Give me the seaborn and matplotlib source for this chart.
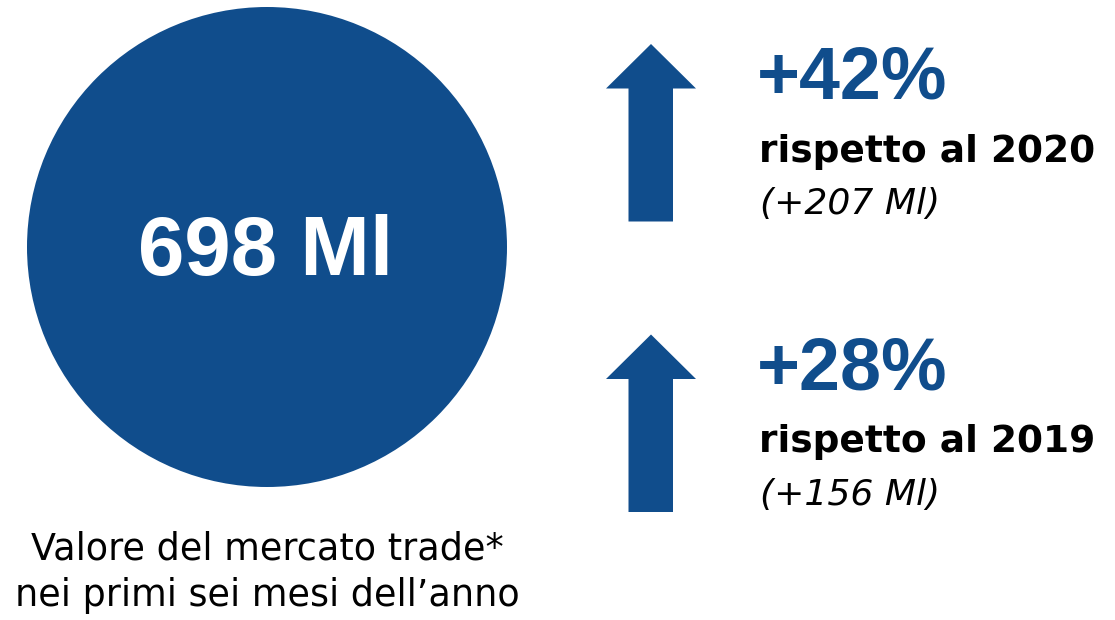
import matplotlib
matplotlib.use("Agg")
import matplotlib.pyplot as plt
import seaborn as sns
from matplotlib.patches import Circle, Polygon

# ---- data ----
total_label = "698 Ml"
caption_lines = ["Valore del mercato trade*", "nei primi sei mesi dell\u2019anno"]
pct_changes = ["+42%", "+28%"]
compare_labels = ["rispetto al 2020", "rispetto al 2019"]
abs_changes = ["(+207 Ml)", "(+156 Ml)"]

BLUE = "#104D8C"

sns.set_theme(style="white")
plt.rcParams["font.family"] = ["Liberation Sans", "DejaVu Sans"]
WIDE = ["DejaVu Sans"]

fig = plt.figure(figsize=(11.15, 6.2), dpi=100)
ax = fig.add_axes([0, 0, 1, 1])
ax.set_xlim(0, 1115)
ax.set_ylim(620, 0)
ax.set_aspect("equal")
ax.axis("off")

# big circle
ax.add_patch(Circle((267, 247), 240, color=BLUE, lw=0))
ax.text(266, 275, total_label, color="white", fontsize=60, fontweight="bold",
        ha="center", va="baseline")

# caption
cap_base = [560, 606]
for line, yb in zip(caption_lines, cap_base):
    ax.text(267, yb, line, color="black", fontsize=26.3, family=WIDE,
            ha="center", va="baseline")

# arrows + texts
for i, (p, c, a) in enumerate(zip(pct_changes, compare_labels, abs_changes)):
    dy = i * 290.5
    tip = 44 + dy
    base = 88.5 + dy
    bottom = 221.5 + dy
    pts = [(651, tip), (696, base), (673, base), (673, bottom),
           (628.5, bottom), (628.5, base), (606, base)]
    ax.add_patch(Polygon(pts, closed=True, color=BLUE, lw=0))
    ax.text(757, 98.5 + dy, p, color=BLUE, fontsize=53, fontweight="bold",
            ha="left", va="baseline")
    ax.text(759, 161.5 + dy, c, color="black", fontsize=27, fontweight="bold",
            family=WIDE, ha="left", va="baseline")
    ax.text(760, 214 + dy, a, color="black", fontsize=26, fontstyle="italic",
            family=WIDE, ha="left", va="baseline")

fig.savefig("out.png", dpi=100)
